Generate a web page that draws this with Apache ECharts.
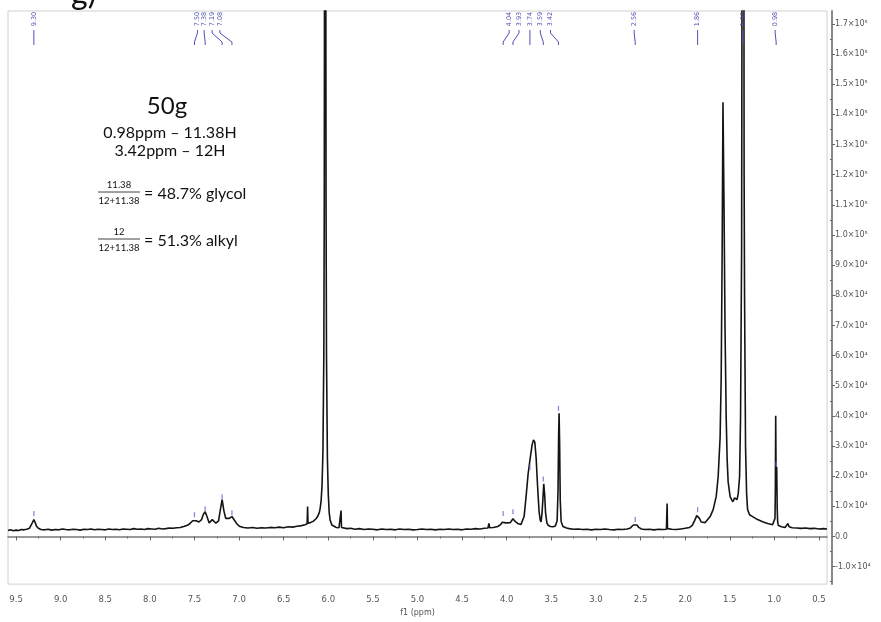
<!DOCTYPE html>
<html>
<head>
<meta charset="utf-8">
<script src="https://cdn.jsdelivr.net/npm/echarts@6/dist/echarts.min.js"></script>
<style>
  html, body { margin: 0; padding: 0; background: #fff; }
  #chart { width: 881px; height: 622px; }
</style>
</head>
<body>
<div id="chart"></div>
<script>
// 1H NMR spectrum: chemical shift (ppm) and intensity, read point by point.
const shiftPpm = [
  9.59, 9.56, 9.53, 9.50, 9.47, 9.44, 9.41, 9.38, 9.35, 9.33, 9.315, 9.30, 9.285, 9.27, 9.25, 9.22,
  9.18, 9.14, 9.10, 9.06, 9.02, 8.98, 8.94, 8.90, 8.86, 8.82, 8.78, 8.74, 8.70, 8.66, 8.62, 8.58,
  8.54, 8.50, 8.46, 8.42, 8.38, 8.34, 8.30, 8.26, 8.22, 8.18, 8.14, 8.10, 8.06, 8.02, 7.98, 7.94,
  7.90, 7.86, 7.82, 7.78, 7.74, 7.70, 7.66, 7.62, 7.58, 7.55, 7.52, 7.50, 7.48, 7.45, 7.42, 7.40,
  7.38, 7.36, 7.335, 7.32, 7.30, 7.28, 7.26, 7.23, 7.21, 7.19, 7.17, 7.15, 7.135, 7.11, 7.08, 7.05,
  7.02, 6.99, 6.95, 6.90, 6.85, 6.80, 6.75, 6.70, 6.65, 6.60, 6.55, 6.50, 6.45, 6.40, 6.35, 6.30,
  6.26, 6.237, 6.232, 6.227, 6.20, 6.17, 6.14, 6.12, 6.10, 6.09, 6.08, 6.07, 6.06, 6.05, 6.045, 6.04,
  6.035, 6.03, 6.025, 6.02, 6.01, 6.00, 5.99, 5.98, 5.96, 5.94, 5.91, 5.88, 5.862, 5.857, 5.852, 5.83,
  5.79, 5.75, 5.70, 5.65, 5.60, 5.55, 5.50, 5.45, 5.40, 5.35, 5.30, 5.25, 5.20, 5.15, 5.10, 5.05,
  5.00, 4.95, 4.90, 4.85, 4.80, 4.75, 4.70, 4.65, 4.60, 4.55, 4.50, 4.45, 4.40, 4.35, 4.30, 4.25,
  4.21, 4.200, 4.19, 4.15, 4.10, 4.07, 4.05, 4.03, 4.01, 3.99, 3.96, 3.93, 3.905, 3.87, 3.84, 3.82,
  3.805, 3.783, 3.76, 3.738, 3.716, 3.70, 3.685, 3.67, 3.66, 3.649, 3.637, 3.625, 3.615, 3.605, 3.595, 3.585,
  3.575, 3.565, 3.55, 3.535, 3.51, 3.48, 3.455, 3.435, 3.425, 3.418, 3.413, 3.407, 3.40, 3.39, 3.37, 3.33,
  3.30, 3.25, 3.20, 3.15, 3.10, 3.05, 3.00, 2.95, 2.90, 2.85, 2.80, 2.75, 2.70, 2.65, 2.62, 2.60,
  2.58, 2.56, 2.54, 2.52, 2.49, 2.45, 2.40, 2.35, 2.30, 2.25, 2.21, 2.205, 2.202, 2.198, 2.19, 2.15,
  2.10, 2.05, 2.00, 1.95, 1.92, 1.89, 1.87, 1.86, 1.84, 1.82, 1.80, 1.775, 1.753, 1.72, 1.686, 1.652,
  1.63, 1.608, 1.596, 1.585, 1.576, 1.565, 1.553, 1.54, 1.529, 1.518, 1.496, 1.479, 1.465, 1.446, 1.43, 1.418,
  1.405, 1.39, 1.379, 1.367, 1.362, 1.356, 1.35, 1.345, 1.339, 1.334, 1.323, 1.311, 1.30, 1.278, 1.244, 1.188,
  1.132, 1.076, 1.02, 1.00, 0.993, 0.989, 0.985, 0.980, 0.974, 0.968, 0.963, 0.955, 0.92, 0.88, 0.86, 0.848,
  0.835, 0.80, 0.75, 0.70, 0.65, 0.60, 0.55, 0.50, 0.45, 0.41
];
const intensity = [
  2000, 2200, 1900, 2100, 2000, 2300, 2200, 2400, 2700, 3300, 4700, 5600, 4600, 3400, 2700, 2300,
  2200, 2400, 2100, 2300, 2200, 2500, 2300, 2200, 2400, 2300, 2100, 2400, 2300, 2500, 2200, 2400,
  2300, 2200, 2500, 2300, 2400, 2200, 2500, 2400, 2300, 2600, 2400, 2500, 2300, 2600, 2500, 2400,
  2700, 2500, 2600, 2800, 2700, 2900, 3000, 3300, 3700, 4300, 5200, 5600, 5200, 4800, 5600, 7400,
  8200, 6600, 4500, 4900, 5600, 5000, 4400, 5200, 8800, 12200, 8500, 6000, 5500, 6000, 6600, 5300,
  4000, 3300, 3000, 2800, 3000, 2700, 2900, 2800, 3000, 2900, 3100, 2900, 3200, 3100, 3400, 3600,
  3900, 4200, 9900, 4400, 4600, 5000, 5800, 6600, 8000, 9500, 12000, 17000, 28000, 60000, 110000, 250000,
  400000, 250000, 110000, 60000, 26000, 14000, 8000, 5500, 3800, 3200, 3000, 2900, 3000, 8600, 3000, 2800,
  2600, 2700, 2400, 2600, 2300, 2500, 2400, 2200, 2500, 2300, 2400, 2200, 2500, 2300, 2400, 2200,
  2300, 2500, 2300, 2400, 2200, 2400, 2300, 2500, 2300, 2400, 2200, 2500, 2400, 2600, 2500, 2700,
  2800, 4300, 2900, 3000, 3300, 3900, 4700, 5300, 4500, 4000, 4600, 5900, 5000, 4200, 4000, 4600,
  6600, 13200, 20800, 25700, 30300, 32000, 31300, 26000, 20000, 14000, 8200, 5500, 4800, 7500, 12000, 17500,
  14000, 8000, 4500, 3700, 3300, 3200, 3500, 5200, 15000, 34000, 40900, 31000, 12000, 5000, 3300, 2800,
  2600, 2400, 2500, 2300, 2400, 2200, 2400, 2300, 2500, 2300, 2200, 2400, 2300, 2500, 2700, 3000,
  3800, 4300, 3800, 3000, 2500, 2300, 2400, 2200, 2400, 2300, 2400, 2600, 10900, 2600, 2500, 2400,
  2300, 2500, 2700, 3000, 3700, 5500, 6900, 7200, 6000, 4800, 4500, 4600, 4900, 6600, 8900, 13200,
  19800, 33000, 52700, 95600, 144000, 112000, 69200, 39500, 25400, 18100, 13200, 12200, 11500, 12800, 12500, 12200,
  14200, 19800, 39500, 95600, 200000, 450000, 500000, 300000, 120000, 79000, 29700, 14200, 8900, 7200, 6600, 5600,
  4900, 4300, 3900, 4200, 6000, 15000, 40000, 16000, 23000, 9000, 4800, 3600, 3200, 3000, 3500, 4300,
  3200, 2900, 2800, 2700, 2800, 2600, 2700, 2500, 2600, 2500
];

// Picked peaks (ppm labels) and the height of their small markers.
const peakLabels = ['9.30', '7.50', '7.38', '7.19', '7.08', '4.04', '3.93', '3.74', '3.59', '3.42', '2.56', '1.86', '1.35', '0.98'];
const peakMarkHeight = [7600, 7200, 9200, 13200, 7900, 7600, 8200, 23000, 19100, 42500, 5600, 8900, 180000, 24000];

// Axis ticks.
const xTickValues = [9.5, 9.0, 8.5, 8.0, 7.5, 7.0, 6.5, 6.0, 5.5, 5.0, 4.5, 4.0, 3.5, 3.0, 2.5, 2.0, 1.5, 1.0, 0.5];
const xMinorTickValues = [9.25, 8.75, 8.25, 7.75, 7.25, 6.75, 6.25, 5.75, 5.25, 4.75, 4.25, 3.75, 3.25, 2.75, 2.25, 1.75, 1.25, 0.75];
const yTickValues = [-10000, 0, 10000, 20000, 30000, 40000, 50000, 60000, 70000, 80000, 90000,
  100000, 110000, 120000, 130000, 140000, 150000, 160000, 170000];
const yMinorTickValues = [-15000, -5000, 5000, 15000, 25000, 35000, 45000, 55000, 65000, 75000, 85000,
  95000, 105000, 115000, 125000, 135000, 145000, 155000, 165000];

// Horizontal spread (px) of each peak label away from its peak, for crowded groups.
const labelShift = [0, 3, -1, -10, -12, 6, 6, 0, -3, -8, -1, 0, 0, -1];

const labelBlue = '#4f4fb4';
const axisGray = '#555';
const textFont = 'Lato';
const superDigit = { '4': '\u2074', '5': '\u2075' };

function sciLabel(v) {
  if (v === 0) return '0.0';
  const a = Math.abs(v);
  const exp = a >= 100000 ? 5 : 4;
  const m = (v / Math.pow(10, exp)).toFixed(1);
  return m + '\u00d710' + superDigit[exp];
}

const spectrum = shiftPpm.map((p, i) => [p, intensity[i]]);
const peaks = peakLabels.map((t, i) => [parseFloat(t), peakMarkHeight[i], i]);

const chart = echarts.init(document.getElementById('chart'), null, { renderer: 'canvas' });

function note(x, y, text, size, align) {
  return {
    type: 'text', x: x, y: y,
    style: { text: text, font: size + 'px ' + textFont, fill: '#111', align: align || 'center', verticalAlign: 'middle' }
  };
}

chart.setOption({
  animation: false,
  backgroundColor: '#fff',
  grid: {
    left: 8, right: 54, top: 11, bottom: 34,
    show: true, borderColor: '#d0d0d0', borderWidth: 1, backgroundColor: 'transparent'
  },
  xAxis: [
    {
      type: 'value', inverse: true, min: 0.41, max: 9.59,
      position: 'bottom', offset: 4,
      name: 'f1 (ppm)', nameLocation: 'middle', nameGap: 18,
      nameTextStyle: { color: axisGray, fontSize: 8, fontFamily: 'DejaVu Sans' },
      axisLine: { show: true, lineStyle: { color: '#777', width: 1.5 } },
      axisTick: { show: true, customValues: xTickValues, length: 4, lineStyle: { color: '#666' } },
      axisLabel: {
        customValues: xTickValues, margin: 7, color: axisGray, fontSize: 8.5,
        fontFamily: 'DejaVu Sans', formatter: v => v.toFixed(1)
      },
      splitLine: { show: false }
    },
    {
      type: 'value', inverse: true, min: 0.41, max: 9.59,
      position: 'bottom', offset: 4,
      axisLine: { show: false },
      axisTick: { show: true, customValues: xMinorTickValues, length: 2, lineStyle: { color: '#666' } },
      axisLabel: { show: false },
      splitLine: { show: false }
    }
  ],
  yAxis: [
    {
      type: 'value', min: -15800, max: 174300,
      position: 'right', offset: 5,
      axisLine: { show: true, lineStyle: { color: '#888', width: 2 } },
      axisTick: { show: true, customValues: yTickValues, length: 3, lineStyle: { color: '#666' } },
      axisLabel: {
        customValues: yTickValues, margin: 3, color: axisGray, fontSize: 8,
        fontFamily: 'DejaVu Sans', formatter: sciLabel
      },
      splitLine: { show: false }
    },
    {
      type: 'value', min: -15800, max: 174300,
      position: 'right', offset: 5,
      axisLine: { show: false },
      axisTick: { show: true, customValues: yMinorTickValues, length: 2, inside: true, lineStyle: { color: '#666' } },
      axisLabel: { show: false },
      splitLine: { show: false }
    }
  ],
  series: [
    {
      name: 'spectrum',
      type: 'line',
      data: spectrum,
      showSymbol: false,
      symbol: 'none',
      clip: true,
      lineStyle: { color: '#141414', width: 1.6 },
      z: 3
    },
    {
      name: 'peak marks',
      type: 'scatter',
      data: peaks,
      symbol: 'rect',
      symbolSize: [1.3, 5],
      itemStyle: { color: '#6a6ad2' },
      clip: true,
      z: 4
    },
    {
      name: 'peak labels',
      type: 'custom',
      data: peaks,
      z: 5,
      renderItem: function (params, api) {
        const i = api.value(2);
        const px = api.coord([api.value(0), 0])[0];
        const lx = px + labelShift[i];
        const top = params.coordSys.y;
        return {
          type: 'group',
          children: [
            {
              type: 'text', x: lx, y: top + 8, rotation: Math.PI / 2,
              style: {
                text: peakLabels[i], fill: labelBlue, font: '6.5px "DejaVu Sans"',
                align: 'center', verticalAlign: 'middle'
              }
            },
            {
              type: 'polyline',
              shape: { points: [[lx, top + 19], [lx, top + 22], [px, top + 31], [px, top + 34]] },
              style: { stroke: labelBlue, lineWidth: 1, fill: null }
            }
          ]
        };
      }
    }
  ],
  graphic: [
    { type: 'text', x: 71, y: 10, style: { text: 'g)', font: '32px ' + textFont, fill: '#111', verticalAlign: 'bottom' } },
    note(167, 106, '50g', 24),
    note(170, 133, '0.98ppm \u2013 11.38H', 16),
    note(170, 151, '3.42ppm \u2013 12H', 16),

    note(119, 185, '11.38', 9.5),
    { type: 'line', shape: { x1: 98, y1: 192, x2: 140, y2: 192 }, style: { stroke: '#111', lineWidth: 0.8 } },
    note(119, 200.5, '12+11.38', 9.5),
    note(144, 194, '= 48.7% glycol', 16, 'left'),

    note(119, 232, '12', 9.5),
    { type: 'line', shape: { x1: 98, y1: 239, x2: 140, y2: 239 }, style: { stroke: '#111', lineWidth: 0.8 } },
    note(119, 247.5, '12+11.38', 9.5),
    note(144, 241, '= 51.3% alkyl', 16, 'left')
  ]
});
</script>
</body>
</html>
